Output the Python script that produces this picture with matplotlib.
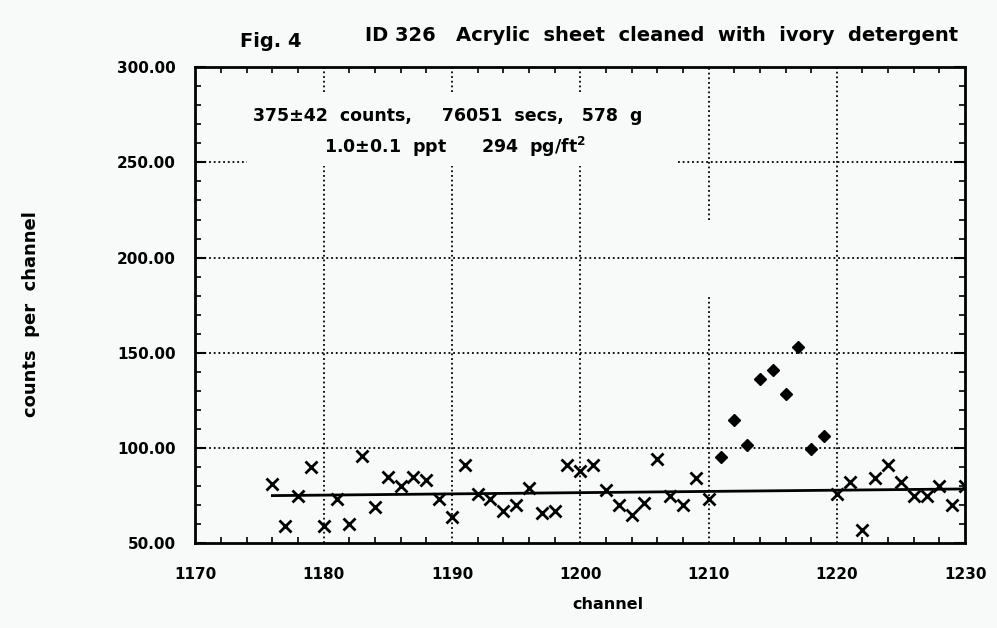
import matplotlib
matplotlib.use('Agg')
import matplotlib.pyplot as plt
from matplotlib.ticker import MultipleLocator, FormatStrFormatter

# background channels (x markers)
bg_channel = [1176, 1177, 1178, 1179, 1180, 1181, 1182, 1183, 1184, 1185,
              1186, 1187, 1188, 1189, 1190, 1191, 1192, 1193, 1194, 1195,
              1196, 1197, 1198, 1199, 1200, 1201, 1202, 1203, 1204, 1205,
              1206, 1207, 1208, 1209, 1210,
              1220, 1221, 1222, 1223, 1224, 1225, 1226, 1227, 1228, 1229, 1230]
bg_counts = [81, 59, 75, 90, 59, 73, 60, 96, 69, 85,
             80, 85, 83, 73, 64, 91, 76, 73, 67, 70,
             79, 66, 67, 91, 88, 91, 78, 70, 65, 71,
             94, 75, 70, 84, 73,
             76, 82, 57, 84, 91, 82, 75, 75, 80, 70, 80]

# peak channels (filled diamonds)
peak_channel = [1211, 1212, 1213, 1214, 1215, 1216, 1217, 1218, 1219]
peak_counts = [95.5, 114.5, 101.5, 136, 141, 128.5, 153, 99.5, 106.5]

# background fit line
fit_channel = [1176, 1230]
fit_counts = [75.0, 78.5]

title_fig = 'Fig. 4'
title_txt = 'ID 326   Acrylic  sheet  cleaned  with  ivory  detergent'
info1 = '375\u00b142  counts,     76051  secs,   578  g'
info2 = '1.0\u00b10.1  ppt      294  pg/ft$^{\\mathbf{2}}$'

plt.rcParams['font.family'] = ['DejaVu Sans']
plt.rcParams['font.weight'] = 'bold'

fig = plt.figure(figsize=(9.97, 6.28), dpi=100, facecolor='#f8f9f9')
ax = fig.add_axes([0.196, 0.135, 0.772, 0.758])
ax.set_facecolor('#f8f9f9')

ax.set_xlim(1170, 1230)
ax.set_ylim(50, 300)

# dotted grid, with the gaps the original shows behind the text
grid_kw = dict(colors='black', linestyles=(0, (1, 1.6)), linewidth=1.3, zorder=1)
ax.vlines([1180, 1190, 1200], 50, 248, **grid_kw)
ax.vlines([1180, 1190, 1200], 287, 300, **grid_kw)
ax.vlines(1210, 50, 180, **grid_kw)
ax.vlines(1210, 220, 300, **grid_kw)
ax.vlines(1220, 50, 300, **grid_kw)
ax.hlines([100, 150, 200], 1170, 1230, **grid_kw)
ax.hlines(250, 1170, 1174, **grid_kw)
ax.hlines(250, 1207.6, 1230, **grid_kw)

ax.plot(fit_channel, fit_counts, color='black', linewidth=2, zorder=2)
ax.plot(bg_channel, bg_counts, linestyle='none', marker='x', color='black',
        markersize=8, markeredgewidth=2, zorder=3)
ax.plot(peak_channel, peak_counts, linestyle='none', marker='D', color='black',
        markersize=6, zorder=3)

ax.text(1174.5, 274.5, info1, fontsize=12.5, fontweight='bold', va='center', ha='left')
ax.text(1180.0, 258, info2, fontsize=12.5, fontweight='bold', va='center', ha='left')

fig.text(0.241, 0.934, title_fig, fontsize=14, fontweight='bold', va='center')
fig.text(0.366, 0.944, title_txt, fontsize=14, fontweight='bold', va='center')

ax.set_xticks([1170, 1180, 1190, 1200, 1210, 1220, 1230])
ax.yaxis.set_major_locator(MultipleLocator(50))
ax.yaxis.set_minor_locator(MultipleLocator(10))
ax.xaxis.set_minor_locator(MultipleLocator(2))
ax.yaxis.set_major_formatter(FormatStrFormatter('%.2f'))
ax.tick_params(which='major', direction='in', length=8, width=1.5,
               labelsize=11, top=False, right=True)
ax.tick_params(axis='x', which='major', length=0, pad=17)
ax.tick_params(axis='y', which='major', pad=14)
ax.tick_params(which='minor', direction='in', length=4, width=1.2,
               top=True, right=True)
for lab in ax.get_xticklabels() + ax.get_yticklabels():
    lab.set_fontweight('bold')

for s in ax.spines.values():
    s.set_linewidth(2)

fig.text(0.61, 0.037, 'channel', fontsize=11.5, fontweight='bold',
         ha='center', va='center')
fig.text(0.031, 0.5, 'counts  per  channel', fontsize=13, fontweight='bold',
         rotation=90, ha='center', va='center')

fig.savefig('out.png', dpi=100, facecolor=fig.get_facecolor())
